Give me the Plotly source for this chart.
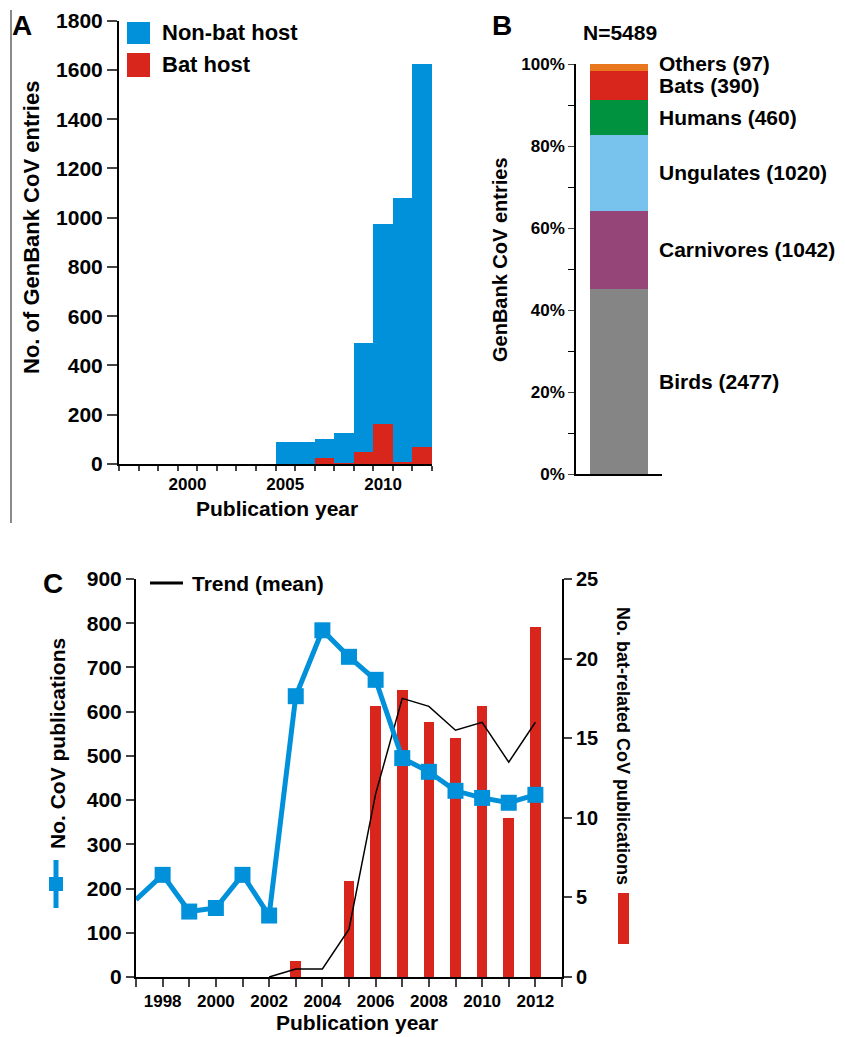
import plotly.graph_objects as go

W, H = 845, 1037

# ---------------- Panel A data ----------------
years_a = list(range(1997, 2013))
total_a = [0, 0, 0, 0, 0, 0, 0, 0, 91, 92, 104, 126, 494, 977, 1081, 1627]
bat_a = [0, 0, 0, 0, 0, 0, 0, 0, 0, 0, 24, 7, 50, 164, 10, 70]
nonbat_a = [t - b for t, b in zip(total_a, bat_a)]
a_tick_labels = [2000, 2005, 2010]

# ---------------- Panel B data ----------------
host_groups = ["Birds", "Carnivores", "Ungulates", "Humans", "Bats", "Others"]
host_counts = [2477, 1042, 1020, 460, 390, 97]
host_colors = ["#858585", "#954577", "#77C3EE", "#00923F", "#D9261C", "#E8771E"]
b_ticks = [0, 20, 40, 60, 80, 100]
n_total_label = "N=5489"

# ---------------- Panel C data ----------------
years_c = list(range(1997, 2013))
cov_pubs = [175, 231, 148, 156, 231, 139, 635, 784, 724, 672, 495, 464, 421, 405, 394, 412]
bat_years = list(range(2003, 2013))
bat_pubs = [1, 0, 6, 17, 18, 16, 15, 17, 10, 22]
trend_years = list(range(2002, 2013))
trend_mean = [0, 0.5, 0.5, 3, 11.5, 17.5, 17, 15.5, 16, 13.5, 16]

BLUE = "#0091DA"
RED = "#D9261C"
FONT = "Liberation Sans, Arial, sans-serif"


def px(x):
    return x / W


def py(y):
    return 1 - y / H


fig = go.Figure()

# Panel A bars (stacked: bat at bottom, non-bat on top)
fig.add_trace(go.Bar(x=years_a, y=bat_a, marker=dict(color=RED, line=dict(width=0)),
                     width=1.0, xaxis="x", yaxis="y", name="Bat host", showlegend=False))
fig.add_trace(go.Bar(x=years_a, y=nonbat_a, marker=dict(color=BLUE, line=dict(width=0)),
                     width=1.0, xaxis="x", yaxis="y", name="Non-bat host", showlegend=False))
# invisible trace so the label axis of panel A is drawn
fig.add_trace(go.Scatter(x=a_tick_labels, y=[0] * len(a_tick_labels), mode="markers",
                         marker=dict(opacity=0), hoverinfo="skip", xaxis="x4", yaxis="y",
                         showlegend=False))

# Panel B stacked bar
total_b = sum(host_counts)
pcts = [c / total_b * 100 for c in host_counts]
for g, p, col in zip(host_groups, pcts, host_colors):
    fig.add_trace(go.Bar(x=[0.5], y=[p], width=0.674, marker=dict(color=col, line=dict(width=0)),
                         xaxis="x2", yaxis="y2", name=g, showlegend=False))

# Panel C: bars and trend on right scale (base axis), CoV pubs on left (overlay)
fig.add_trace(go.Bar(x=bat_years, y=bat_pubs, width=0.4, marker=dict(color=RED, line=dict(width=0)),
                     xaxis="x3", yaxis="y3", showlegend=False))
fig.add_trace(go.Scatter(x=trend_years, y=trend_mean, mode="lines", line=dict(color="black", width=1.5),
                         xaxis="x3", yaxis="y3", showlegend=False))
fig.add_trace(go.Scatter(x=years_c, y=cov_pubs, mode="lines+markers",
                         line=dict(color=BLUE, width=5),
                         marker=dict(symbol="square", size=[0] + [16] * (len(years_c) - 1),
                                     color=BLUE, opacity=1, line=dict(width=0)),
                         xaxis="x3", yaxis="y5", showlegend=False))

bold = dict(family=FONT, color="black", weight="bold")

edges = [y - 0.5 for y in years_a] + [years_a[-1] + 0.5]
c_ticks = list(range(1997, 2014))
c_text = [str(t) if (t % 2 == 0 and 1998 <= t <= 2012) else "" for t in c_ticks]

common = dict(showgrid=False, zeroline=False, automargin=False)

fig.update_layout(
    width=W, height=H, margin=dict(l=0, r=0, t=0, b=0, autoexpand=False),
    paper_bgcolor="white", plot_bgcolor="rgba(0,0,0,0)", barmode="stack", bargap=0,
    font=dict(family=FONT, color="black"),
    xaxis=dict(domain=[px(119), px(432)], range=[1996.5, 2012.5], tickvals=edges,
               ticktext=[""] * len(edges), ticks="outside", ticklen=5, tickwidth=1.5,
               showline=True, linecolor="black", linewidth=2, anchor="y", **common),
    xaxis4=dict(domain=[px(119), px(432)], range=[1996.5, 2012.5], tickvals=a_tick_labels,
                ticktext=[str(t) for t in a_tick_labels],
                ticks="", overlaying="x", anchor="y", side="bottom", showline=False,
                ticklabelstandoff=8, tickfont=dict(size=17, **bold), **common),
    yaxis=dict(domain=[py(464), py(20.7)], range=[0, 1800], dtick=200, ticks="outside",
               ticklen=10, tickwidth=1.5, showline=True, linecolor="black", linewidth=2,
               tickfont=dict(size=21, **bold), anchor="x", **common),
    xaxis2=dict(domain=[px(576), px(662)], range=[0, 1], showticklabels=False, ticks="",
                showline=True, linecolor="black", linewidth=2, anchor="y2", **common),
    yaxis2=dict(domain=[py(474), py(64)], range=[0, 100], tickvals=b_ticks,
                ticktext=[f"{t}%" for t in b_ticks], ticks="outside", ticklen=6, tickwidth=1,
                minor=dict(dtick=10, ticks="outside", ticklen=6, tickwidth=1, tickcolor="black"),
                showline=True, linecolor="black", linewidth=1.5,
                tickfont=dict(size=17, **bold), anchor="x2", **common),
    xaxis3=dict(domain=[px(136), px(562)], range=[1997, 2013], tickvals=c_ticks, ticktext=c_text,
                ticks="outside", ticklen=8, tickwidth=1.5, showline=True, linecolor="black",
                linewidth=2, tickfont=dict(size=17, **bold), anchor="y3", **common),
    yaxis3=dict(domain=[py(977), py(579)], range=[0, 25], dtick=5, side="right", ticks="outside",
                ticklen=8, tickwidth=1.5, showline=True, linecolor="black", linewidth=2,
                tickfont=dict(size=20, **bold), anchor="x3", **common),
    yaxis5=dict(domain=[py(977), py(579)], range=[0, 900], dtick=100, side="left",
                overlaying="y3", anchor="x3", ticks="outside", ticklen=8, tickwidth=1.5,
                showline=True, linecolor="black", linewidth=2,
                tickfont=dict(size=21, **bold), **common),
)

ann = []


def add_text(text, x, y, size, xanchor="center", angle=0, weight="bold", yshift=0,
             xref="paper", yref="paper", yanchor="middle"):
    ann.append(dict(text=text, x=x, y=y, xref=xref, yref=yref, showarrow=False,
                    xanchor=xanchor, yanchor=yanchor, textangle=angle, yshift=yshift,
                    font=dict(family=FONT, size=size, color="black", weight=weight)))


# Panel letters
add_text("A", px(22), py(25), 28)
add_text("B", px(502), py(25), 28)
add_text("C", px(53), py(583), 28)

# Panel A
add_text("Non-bat host", px(160), py(33), 22, xanchor="left")
add_text("Bat host", px(160), py(65), 22, xanchor="left")
add_text("No. of GenBank CoV entries", px(32), py(228), 22, angle=-90)
add_text("Publication year", px(277), py(508), 21)

# Panel B
add_text(n_total_label, px(620), py(33), 21)
add_text("GenBank CoV entries", px(500), py(260), 20, angle=-90)
cum = 0
for g, c, p in zip(host_groups, host_counts, pcts):
    mid = cum + p / 2
    cum += p
    shift = 4 if g == "Others" else 0
    add_text(f"{g} ({c})", px(657), mid, 21, xanchor="left", yshift=shift,
             xref="paper", yref="y2")

# Panel C
add_text("Trend (mean)", px(190), py(583), 21, xanchor="left")
add_text("No. CoV publications", px(57), py(744), 21, angle=-90)
add_text("No. bat-related CoV publications", px(623), py(746), 18, angle=90)
add_text("Publication year", px(357), py(1036), 21, yanchor="bottom")

fig.update_layout(annotations=ann)

shapes = [
    # gray frame line left of panel A
    dict(type="line", xref="paper", yref="paper", x0=px(11), x1=px(11), y0=py(10), y1=py(523),
         line=dict(color="#8a8a8a", width=2)),
    # panel A legend squares
    dict(type="rect", xref="paper", yref="paper", x0=px(127), x1=px(150), y0=py(44), y1=py(22),
         fillcolor=BLUE, line=dict(width=0)),
    dict(type="rect", xref="paper", yref="paper", x0=px(127), x1=px(150), y0=py(77), y1=py(53),
         fillcolor=RED, line=dict(width=0)),
    # panel C trend legend
    dict(type="line", xref="paper", yref="paper", x0=px(150), x1=px(183), y0=py(583), y1=py(583),
         line=dict(color="black", width=3)),
    # left axis symbol
    dict(type="line", xref="paper", yref="paper", x0=px(56), x1=px(56), y0=py(860), y1=py(908),
         line=dict(color=BLUE, width=5)),
    dict(type="rect", xref="paper", yref="paper", x0=px(49), x1=px(63), y0=py(891), y1=py(877),
         fillcolor=BLUE, line=dict(width=0)),
    # right axis symbol
    dict(type="rect", xref="paper", yref="paper", x0=px(618), x1=px(629), y0=py(944), y1=py(893),
         fillcolor=RED, line=dict(width=0)),
]
fig.update_layout(shapes=shapes)

fig.write_html("out.html", config={"displayModeBar": False},
               post_script="document.body.style.margin='0';document.body.style.padding='0';")
